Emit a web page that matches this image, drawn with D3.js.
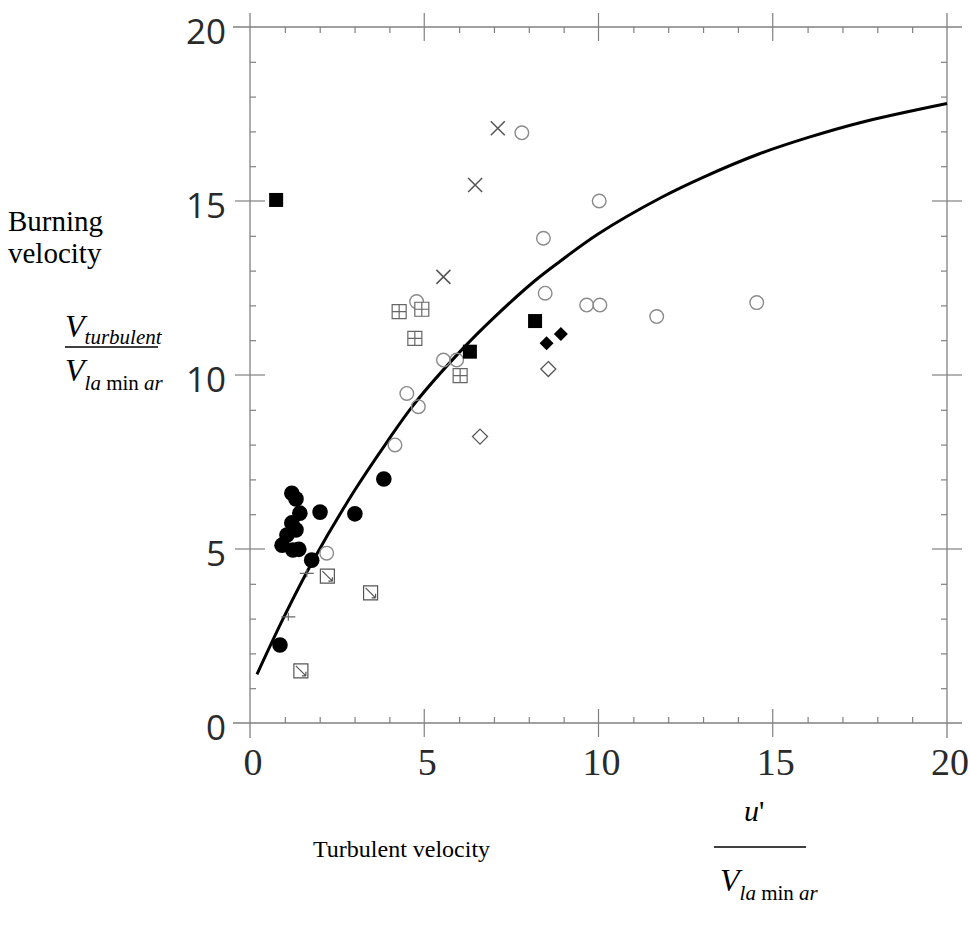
<!DOCTYPE html>
<html>
<head>
<meta charset="utf-8">
<script src="https://cdn.jsdelivr.net/npm/d3@7"></script>
<style>
  body { margin: 0; background: #fff; }
  svg { display: block; }
</style>
</head>
<body>
<div id="chart"></div>
<script>
// tick labels
let xMajor = [0, 5, 10, 15, 20];
let yMajor = [0, 5, 10, 15, 20];

// data  [u'/Vlam, Vturb/Vlam]
let filledCircles = [[0.86, 2.24], [1.2, 6.6], [1.32, 6.44], [1.43, 6.03], [1.2, 5.75], [1.32, 5.55],
    [1.06, 5.4], [0.92, 5.11], [1.23, 4.97], [1.4, 4.99], [1.77, 4.68], [2.01, 6.06], [3.01, 6.01], [3.84, 7.01]];
let openCircles = [[2.2, 4.88], [4.16, 7.99], [4.5, 9.47], [4.83, 9.09], [5.55, 10.43], [5.93, 10.43],
    [4.78, 12.11], [8.47, 12.35], [7.8, 16.96], [8.42, 13.93], [10.02, 15.0], [9.66, 12.01], [10.04, 12.01],
    [11.67, 11.68], [14.54, 12.08]];
let crosses = [[7.11, 17.09], [6.46, 15.46], [5.55, 12.82]];
let gridSquares = [[4.28, 11.82], [4.93, 11.89], [4.73, 11.05], [6.03, 9.98]];
let filledSquares = [[0.75, 15.03], [8.18, 11.55], [6.31, 10.67]];
let filledDiamonds = [[8.51, 10.91], [8.92, 11.18]];
let openDiamonds = [[8.56, 10.17], [6.6, 8.23]];
let slashSquares = [[2.22, 4.22], [3.46, 3.74], [1.46, 1.5]];
let plusMarks = [[1.63, 4.3], [1.1, 3.05]];
let fitCurve = [[0.2, 1.4], [1.0, 3.1], [1.8, 4.65], [3.0, 6.68], [3.9, 8.03], [4.7, 9.15], [6.1, 10.75],
    [7.0, 11.65], [8.2, 12.73], [8.9, 13.27], [10.0, 14.06], [11.8, 15.1], [13.0, 15.68], [14.6, 16.35],
    [16.0, 16.82], [17.5, 17.25], [20, 17.8]];

let width = 970, height = 932;
let axisColor = "#808080";
let markGray = "#8a8a8a";
let serif = "'Liberation Serif', 'Times New Roman', serif";

let svg = d3.select("#chart")
    .append("svg")
        .attr("width", width)
        .attr("height", height);

let x = d3.scaleLinear().domain([0, 20]).range([250, 947]);
let y = d3.scaleLinear().domain([0, 20]).range([723, 27]);
let minorX = d3.range(0, 21).filter(v => v % 5);
let minorY = d3.range(0, 21).filter(v => v % 5);

// frame: four axes, majors cross the line, minors point inwards
function styleAxis(g) {
    g.select(".domain").remove();
    g.selectAll(".tick line").attr("stroke", axisColor).attr("stroke-width", 1.2);
    g.selectAll(".tick text").remove();
}
svg.append("g").attr("transform", "translate(0," + y(0) + ")")
    .call(d3.axisBottom(x).tickValues(minorX).tickSize(-6)).call(styleAxis);
svg.append("g").attr("transform", "translate(0," + y(20) + ")")
    .call(d3.axisTop(x).tickValues(minorX).tickSize(-6)).call(styleAxis);
svg.append("g").attr("transform", "translate(" + x(0) + ",0)")
    .call(d3.axisLeft(y).tickValues(minorY).tickSize(-6)).call(styleAxis);
svg.append("g").attr("transform", "translate(" + x(20) + ",0)")
    .call(d3.axisRight(y).tickValues(minorY).tickSize(-6)).call(styleAxis);

[y(0), y(20)].forEach(function (yy) {
    svg.selectAll(null).data(xMajor.slice(1, -1)).enter().append("line")
        .attr("x1", d => x(d)).attr("x2", d => x(d))
        .attr("y1", yy - 14).attr("y2", yy + 14)
        .attr("stroke", axisColor).attr("stroke-width", 1.2);
    svg.append("line")
        .attr("x1", x(0) - 17).attr("x2", x(20) + 15)
        .attr("y1", yy).attr("y2", yy)
        .attr("stroke", axisColor).attr("stroke-width", 1.3);
});
[x(0), x(20)].forEach(function (xx) {
    svg.selectAll(null).data(yMajor.slice(1, -1)).enter().append("line")
        .attr("y1", d => y(d)).attr("y2", d => y(d))
        .attr("x1", xx - 15).attr("x2", xx + 15)
        .attr("stroke", axisColor).attr("stroke-width", 1.2);
    svg.append("line")
        .attr("y1", y(20) - 14).attr("y2", y(0) + 15)
        .attr("x1", xx).attr("x2", xx)
        .attr("stroke", axisColor).attr("stroke-width", 1.3);
});

// tick labels
svg.append("g").selectAll("text").data(yMajor).enter().append("text")
    .attr("x", 226).attr("y", d => y(d) + 3)
    .attr("text-anchor", "end").attr("dominant-baseline", "central")
    .attr("font-family", "'Open Sans', 'Noto Sans', sans-serif")
    .attr("font-size", 35).attr("fill", "#2a2a2a")
    .text(d => d);
svg.append("g").selectAll("text").data(xMajor).enter().append("text")
    .attr("x", d => x(d) + 3).attr("y", 775)
    .attr("text-anchor", "middle")
    .attr("font-family", serif)
    .attr("font-size", 38).attr("fill", "#2a2a2a")
    .text(d => d);

// fitted curve
let line = d3.line().x(d => x(d[0])).y(d => y(d[1])).curve(d3.curveCatmullRom.alpha(0.5));
svg.append("path").datum(fitCurve)
    .attr("d", line)
    .attr("fill", "none").attr("stroke", "#000").attr("stroke-width", 3);

// markers
let pts = svg.append("g");
pts.selectAll(".fc").data(filledCircles).enter().append("circle")
    .attr("cx", d => x(d[0])).attr("cy", d => y(d[1])).attr("r", 7.8)
    .attr("fill", "#000");
pts.selectAll(".oc").data(openCircles).enter().append("circle")
    .attr("cx", d => x(d[0])).attr("cy", d => y(d[1])).attr("r", 6.8)
    .attr("fill", "none").attr("stroke", markGray).attr("stroke-width", 1.4);
pts.selectAll(".cr").data(crosses).enter().append("path")
    .attr("transform", d => "translate(" + x(d[0]) + "," + y(d[1]) + ")")
    .attr("d", "M-7,-7L7,7M-7,7L7,-7")
    .attr("stroke", "#555").attr("stroke-width", 1.5);
pts.selectAll(".gs").data(gridSquares).enter().append("path")
    .attr("transform", d => "translate(" + x(d[0]) + "," + y(d[1]) + ")")
    .attr("d", "M-7,-7H7V7H-7ZM0,-7V7M-7,0H7")
    .attr("fill", "#fff").attr("stroke", "#666").attr("stroke-width", 1.2);
pts.selectAll(".fs").data(filledSquares).enter().append("rect")
    .attr("x", d => x(d[0]) - 7).attr("y", d => y(d[1]) - 7)
    .attr("width", 14).attr("height", 14).attr("fill", "#000");
pts.selectAll(".fd").data(filledDiamonds).enter().append("path")
    .attr("transform", d => "translate(" + x(d[0]) + "," + y(d[1]) + ")")
    .attr("d", "M0,-7L7,0L0,7L-7,0Z").attr("fill", "#000");
pts.selectAll(".od").data(openDiamonds).enter().append("path")
    .attr("transform", d => "translate(" + x(d[0]) + "," + y(d[1]) + ")")
    .attr("d", "M0,-7.5L7.5,0L0,7.5L-7.5,0Z")
    .attr("fill", "#fff").attr("stroke", "#555").attr("stroke-width", 1.3);
pts.selectAll(".ss").data(slashSquares).enter().append("path")
    .attr("transform", d => "translate(" + x(d[0]) + "," + y(d[1]) + ")")
    .attr("d", "M-7,-7H7V7H-7ZM-5,-5L5,5M5,5V1M5,5H1")
    .attr("fill", "#fff").attr("stroke", "#555").attr("stroke-width", 1.2);
pts.selectAll(".pm").data(plusMarks).enter().append("path")
    .attr("transform", d => "translate(" + x(d[0]) + "," + y(d[1]) + ")")
    .attr("d", "M-7,0H7M0,-4V4")
    .attr("stroke", "#666").attr("stroke-width", 1.2);

// axis titles
svg.append("text").attr("x", 8).attr("y", 231)
    .attr("font-family", serif).attr("font-size", 29).text("Burning");
svg.append("text").attr("x", 8).attr("y", 263)
    .attr("font-family", serif).attr("font-size", 29).text("velocity");

function fraction(g, num, den) {
    let n = g.append("text").attr("x", num.x).attr("y", num.y).attr("font-family", serif);
    num.parts.forEach(p => n.append("tspan").text(p.t)
        .attr("dy", p.dy || 0).attr("font-size", p.size)
        .attr("font-style", p.italic ? "italic" : "normal"));
    g.append("line").attr("x1", num.lx1).attr("x2", num.lx2)
        .attr("y1", num.ly).attr("y2", num.ly)
        .attr("stroke", "#000").attr("stroke-width", 1.4);
    let dn = g.append("text").attr("x", den.x).attr("y", den.y).attr("font-family", serif);
    den.parts.forEach(p => dn.append("tspan").text(p.t)
        .attr("dy", p.dy || 0).attr("font-size", p.size)
        .attr("font-style", p.italic ? "italic" : "normal"));
}

let subLam = [{t: "V", italic: true, size: 32}, {t: "la", italic: true, size: 21, dy: 9},
    {t: " min ", italic: false, size: 21}, {t: "ar", italic: true, size: 21}];

fraction(svg.append("g"),
    {x: 65, y: 337, lx1: 65, lx2: 158, ly: 347,
     parts: [{t: "V", italic: true, size: 32}, {t: "turbulent", italic: true, size: 21, dy: 7}]},
    {x: 65, y: 381, parts: subLam});

svg.append("text").attr("x", 313).attr("y", 857)
    .attr("font-family", serif).attr("font-size", 24).text("Turbulent velocity");

fraction(svg.append("g"),
    {x: 744, y: 821, lx1: 714, lx2: 806, ly: 847,
     parts: [{t: "u", italic: true, size: 30}, {t: "'", italic: false, size: 30}]},
    {x: 720, y: 891, parts: subLam});
</script>
</body>
</html>
